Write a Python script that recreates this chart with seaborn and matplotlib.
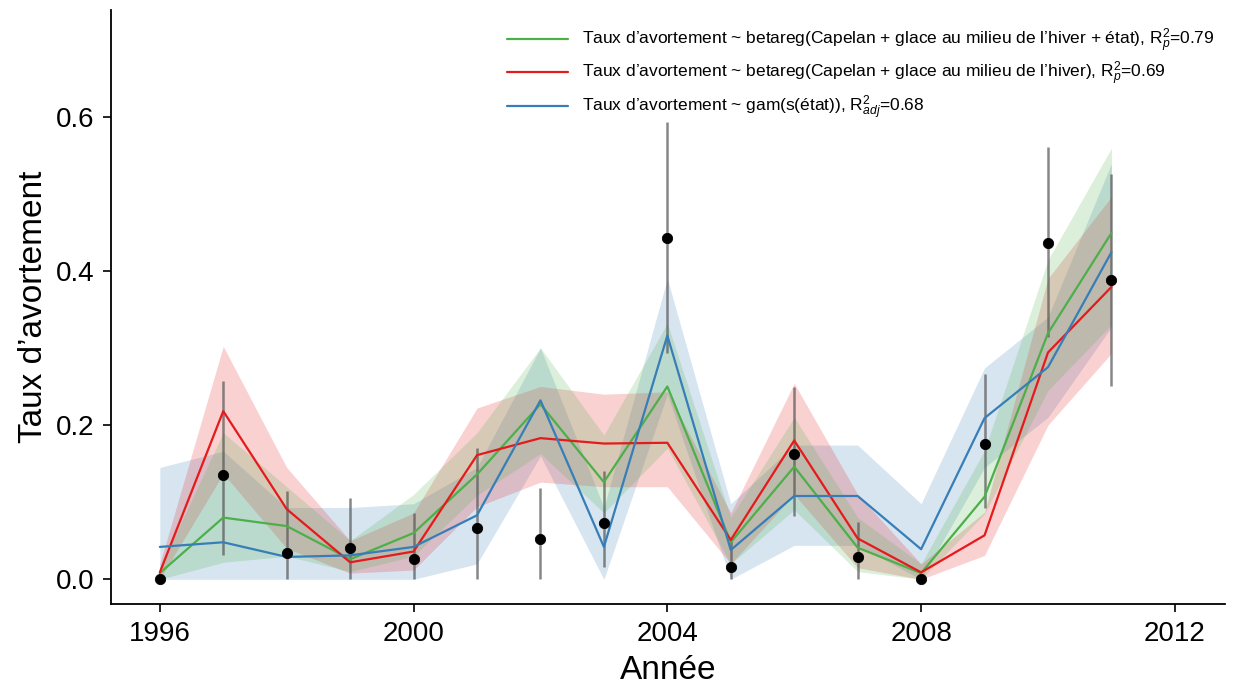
import numpy as np
import pandas as pd
import matplotlib
matplotlib.use("Agg")
import matplotlib.pyplot as plt
import seaborn as sns

years = list(range(1996, 2012))
obs = [0.0, 0.135, 0.034, 0.040, 0.026, 0.066, 0.052, 0.073, 0.442, 0.016, 0.162, 0.029, 0.0, 0.175, 0.436, 0.388]
err_lo = [np.nan, 0.031, 0.0, 0.0, 0.0, 0.0, 0.0, 0.016, 0.293, 0.0, 0.082, 0.0, np.nan, 0.092, 0.314, 0.250]
err_hi = [np.nan, 0.257, 0.114, 0.106, 0.086, 0.170, 0.118, 0.140, 0.593, 0.050, 0.249, 0.074, np.nan, 0.266, 0.560, 0.525]

green = [0.008, 0.080, 0.069, 0.026, 0.060, 0.136, 0.227, 0.126, 0.250, 0.048, 0.146, 0.041, 0.008, 0.107, 0.319, 0.449]
green_lo = [0.0, 0.022, 0.030, 0.010, 0.030, 0.109, 0.163, 0.086, 0.170, 0.020, 0.090, 0.010, 0.0, 0.085, 0.245, 0.330]
green_hi = [0.015, 0.190, 0.120, 0.050, 0.110, 0.190, 0.300, 0.187, 0.332, 0.080, 0.210, 0.080, 0.020, 0.167, 0.414, 0.559]

red = [0.009, 0.218, 0.091, 0.022, 0.036, 0.161, 0.183, 0.176, 0.177, 0.051, 0.180, 0.053, 0.009, 0.057, 0.294, 0.379]
red_lo = [0.0, 0.137, 0.040, 0.008, 0.012, 0.094, 0.126, 0.120, 0.120, 0.020, 0.110, 0.015, 0.0, 0.031, 0.200, 0.293]
red_hi = [0.020, 0.302, 0.145, 0.050, 0.086, 0.222, 0.250, 0.240, 0.243, 0.086, 0.254, 0.110, 0.020, 0.087, 0.390, 0.496]

blue = [0.042, 0.048, 0.029, 0.031, 0.042, 0.083, 0.232, 0.042, 0.316, 0.038, 0.108, 0.108, 0.039, 0.209, 0.275, 0.424]
blue_lo = [0.0, 0.0, 0.0, 0.0, 0.0, 0.020, 0.160, 0.0, 0.240, 0.0, 0.044, 0.044, 0.0, 0.145, 0.210, 0.327]
blue_hi = [0.145, 0.166, 0.093, 0.093, 0.098, 0.145, 0.300, 0.093, 0.390, 0.098, 0.174, 0.174, 0.098, 0.274, 0.340, 0.539]

labels = [
    "Taux d\u2019avortement ~ betareg(Capelan + glace au milieu de l\u2019hiver + \u00e9tat), R$_p^2$=0.79",
    "Taux d\u2019avortement ~ betareg(Capelan + glace au milieu de l\u2019hiver), R$_p^2$=0.69",
    "Taux d\u2019avortement ~ gam(s(\u00e9tat)), R$_{adj}^2$=0.68",
]
colors = ["#4daf4a", "#e41a1c", "#377eb8"]

sns.set_theme(style="ticks")
plt.rcParams["font.family"] = ["Liberation Sans", "DejaVu Sans"]
plt.rcParams["mathtext.fontset"] = "custom"
plt.rcParams["mathtext.rm"] = "Liberation Sans"
plt.rcParams["mathtext.it"] = "Liberation Sans:italic"

fig = plt.figure(figsize=(12.33, 6.89), dpi=100)
ax = fig.add_axes([0.09, 0.1234, 0.9035, 0.862])

series = [(green, green_lo, green_hi), (red, red_lo, red_hi), (blue, blue_lo, blue_hi)]
for (m, lo, hi), c in zip(series[::-1], colors[::-1]):
    ax.fill_between(years, lo, hi, color=c, alpha=0.2, linewidth=0)

ax.vlines(years, err_lo, err_hi, color="#555555", alpha=0.7, linewidth=1.8, zorder=3)

df = pd.DataFrame({
    "Année": years * 3,
    "val": green + red + blue,
    "model": [labels[0]] * 16 + [labels[1]] * 16 + [labels[2]] * 16,
})
sns.lineplot(data=df, x="Année", y="val", hue="model", hue_order=labels,
             palette=colors, linewidth=1.6, ax=ax, zorder=4)

sns.scatterplot(x=years, y=obs, color="black", s=55, edgecolor="black", zorder=5, ax=ax, legend=False)

ax.set_xlim(1995.23, 2012.79)
ax.set_ylim(-0.032, 0.738)
ax.set_xticks([1996, 2000, 2004, 2008, 2012])
ax.set_yticks([0.0, 0.2, 0.4, 0.6])
ax.set_yticklabels(["0.0", "0.2", "0.4", "0.6"])
ax.tick_params(labelsize=20, length=6, width=1.2, colors="black", pad=6)
ax.set_xlabel("Année", fontsize=24, color="black", labelpad=6)
ax.set_ylabel("Taux d\u2019avortement", fontsize=24, color="black", labelpad=5)
for s in ["left", "bottom"]:
    ax.spines[s].set_linewidth(1.3)
    ax.spines[s].set_color("black")
sns.despine(ax=ax)

leg = ax.legend(loc="upper right", bbox_to_anchor=(1.0, 0.99), frameon=False,
                fontsize=12.5, handlelength=3.5, handletextpad=0.8,
                labelspacing=0.3, borderaxespad=0.2, title=None)
for t in leg.get_texts():
    t.set_color("black")

fig.savefig("out.png", dpi=100)
